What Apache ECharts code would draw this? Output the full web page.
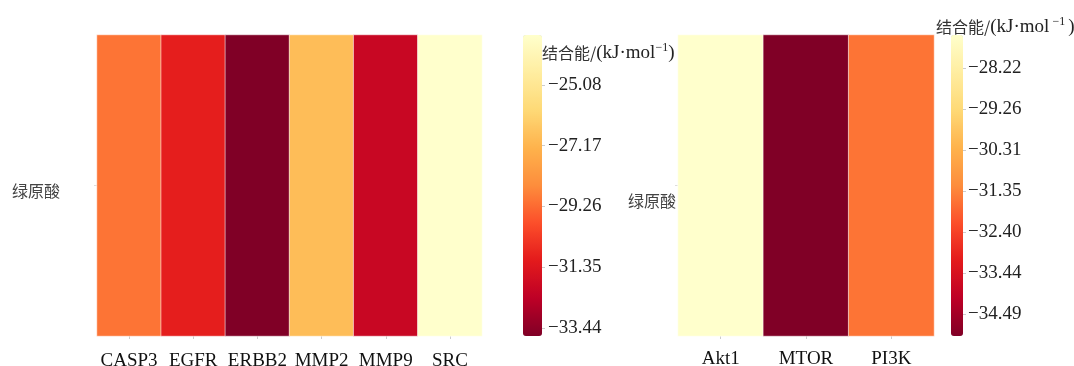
<!DOCTYPE html>
<html>
<head>
<meta charset="utf-8">
<script src="https://cdn.jsdelivr.net/npm/echarts@6/dist/echarts.min.js"></script>
<style>
html,body{margin:0;padding:0;background:#fff;}
#chart{width:1074px;height:366px;}
</style>
</head>
<body>
<div id="chart"></div>
<script>
// ---- data ----
const compound = ['绿原酸'];
const leftTargets = ['CASP3', 'EGFR', 'ERBB2', 'MMP2', 'MMP9', 'SRC'];
const leftValues = [-29.06, -31.02, -33.71, -26.89, -32.06, -23.37];
const leftTicks = [-25.08, -27.17, -29.26, -31.35, -33.44];
const leftRange = [-33.71, -23.37];

const rightTargets = ['Akt1', 'MTOR', 'PI3K'];
const rightValues = [-27.38, -35.05, -31.60];
const rightTicks = [-28.22, -29.26, -30.31, -31.35, -32.40, -33.44, -34.49];
const rightRange = [-35.05, -27.38];

const ylOrRd = ['#800026','#bd0026','#e31a1c','#fc4e2a','#fd8d3c','#feb24c','#fed976','#ffeda0','#ffffcc'];

const serif = '"Liberation Serif", "DejaVu Serif", serif';
const cjk = '"Noto Sans CJK SC", sans-serif';

function heatData(values){ return values.map((v,i)=>[i,0,v]); }

const chart = echarts.init(document.getElementById('chart'), null, {renderer:'canvas'});

const titleRich = {
  cn:{fontFamily:cjk,fontSize:16,fontWeight:'normal',color:'#333',lineHeight:22},
  en:{fontFamily:serif,fontSize:19,fontWeight:'normal',color:'#222',lineHeight:22},
  sup:{fontFamily:serif,fontSize:12,fontWeight:'normal',color:'#222',verticalAlign:'top',lineHeight:22}
};

const option = {
  backgroundColor:'#fff',
  animation:false,
  title:[
    {text:'{cn|结合能/}{en|(kJ·mol}{sup|−1}{en|)}', left:542, top:42, padding:0,
     textStyle:{fontWeight:'normal', rich:titleRich}},
    {text:'{cn|结合能/}{en|(kJ·mol}{sup| −1 }{en|)}', left:936, top:16, padding:0,
     textStyle:{fontWeight:'normal', rich:titleRich}}
  ],
  grid:[
    {left:97, top:35, width:385, height:301, outerBoundsMode:'none', containLabel:false},
    {left:678, top:35, width:256, height:301, outerBoundsMode:'none', containLabel:false},
    {left:523, top:35, width:19, height:301, outerBoundsMode:'none', containLabel:false},
    {left:951, top:35, width:12, height:301, outerBoundsMode:'none', containLabel:false}
  ],
  xAxis:[
    {type:'category', gridIndex:0, data:leftTargets,
     axisLine:{show:false}, splitLine:{show:false},
     axisTick:{show:true, alignWithLabel:true, length:3, lineStyle:{color:'#ccc'}},
     axisLabel:{interval:0, fontFamily:serif, fontSize:19, color:'#111', margin:16}},
    {type:'category', gridIndex:1, data:rightTargets,
     axisLine:{show:false}, splitLine:{show:false},
     axisTick:{show:true, alignWithLabel:true, length:3, lineStyle:{color:'#ccc'}},
     axisLabel:{interval:0, fontFamily:serif, fontSize:19, color:'#111', margin:14}},
    {type:'category', gridIndex:2, data:[''], show:false},
    {type:'category', gridIndex:3, data:[''], show:false}
  ],
  yAxis:[
    {type:'category', gridIndex:0, data:compound,
     axisLine:{show:false}, splitLine:{show:false},
     axisTick:{show:true, length:3, alignWithLabel:true, lineStyle:{color:'#ddd'}},
     axisLabel:{fontFamily:cjk, fontSize:16, color:'#444', align:'left', margin:85,
       verticalAlign:'top', lineHeight:10}},
    {type:'category', gridIndex:1, data:compound,
     axisLine:{show:false}, splitLine:{show:false},
     axisTick:{show:true, length:3, alignWithLabel:true, lineStyle:{color:'#ddd'}},
     axisLabel:{fontFamily:cjk, fontSize:16, color:'#444', margin:2,
       verticalAlign:'top', lineHeight:30}},
    {type:'value', gridIndex:2, position:'right', min:leftRange[0], max:leftRange[1],
     axisLine:{show:false}, splitLine:{show:false},
     axisTick:{show:true, length:3, customValues:leftTicks, lineStyle:{color:'#ccc'}},
     axisLabel:{customValues:leftTicks, fontFamily:serif, fontSize:19, color:'#222', margin:6,
       formatter:v=>'−'+Math.abs(v).toFixed(2)}},
    {type:'value', gridIndex:3, position:'right', min:rightRange[0], max:rightRange[1],
     axisLine:{show:false}, splitLine:{show:false},
     axisTick:{show:true, length:3, customValues:rightTicks, lineStyle:{color:'#ccc'}},
     axisLabel:{customValues:rightTicks, fontFamily:serif, fontSize:19, color:'#222', margin:5,
       formatter:v=>'−'+Math.abs(v).toFixed(2)}}
  ],
  visualMap:[
    {type:'continuous', seriesIndex:0, min:leftRange[0], max:leftRange[1],
     inRange:{color:ylOrRd}, left:523, top:35, itemWidth:19, itemHeight:301,
     padding:0, calculable:false, realtime:false, text:null, showLabel:false,
     hoverLink:false},
    {type:'continuous', seriesIndex:1, min:rightRange[0], max:rightRange[1],
     inRange:{color:ylOrRd}, left:951, top:35, itemWidth:12, itemHeight:301,
     padding:0, calculable:false, realtime:false, text:null, showLabel:false,
     hoverLink:false}
  ],
  series:[
    {type:'heatmap', xAxisIndex:0, yAxisIndex:0, data:heatData(leftValues),
     itemStyle:{borderColor:'rgba(255,255,255,0.55)', borderWidth:1}},
    {type:'heatmap', xAxisIndex:1, yAxisIndex:1, data:heatData(rightValues),
     itemStyle:{borderColor:'rgba(255,255,255,0.55)', borderWidth:1}}
  ]
};
chart.setOption(option);
</script>
</body>
</html>
